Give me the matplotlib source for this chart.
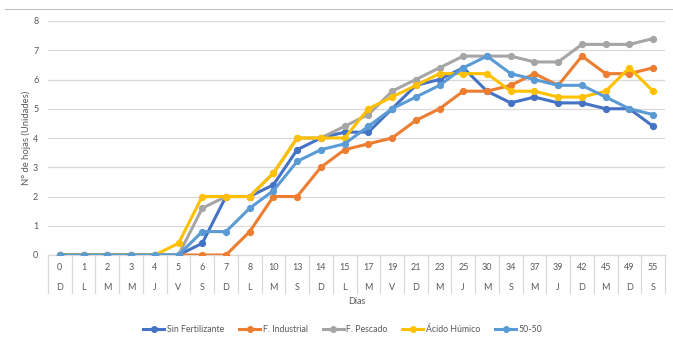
import matplotlib
matplotlib.use("Agg")
import matplotlib.pyplot as plt
from matplotlib.lines import Line2D
import matplotlib.transforms as mtransforms

plt.rcParams['font.family'] = ['Lato', 'DejaVu Sans']

dias = ["0", "1", "2", "3", "4", "5", "6", "7", "8", "10", "13", "14", "15",
        "17", "19", "21", "23", "25", "30", "34", "37", "39", "42", "45", "49", "55"]
dias_semana = ["D", "L", "M", "M", "J", "V", "S", "D", "L", "M", "S", "D", "L",
               "M", "V", "D", "M", "J", "M", "S", "M", "J", "D", "M", "D", "S"]

sin_fertilizante = [0, 0, 0, 0, 0, 0, 0.4, 2, 2, 2.4, 3.6, 4, 4.2, 4.2, 5, 5.8,
                    6, 6.4, 5.6, 5.2, 5.4, 5.2, 5.2, 5, 5, 4.4]
f_industrial = [0, 0, 0, 0, 0, 0, 0, 0, 0.8, 2, 2, 3, 3.6, 3.8, 4, 4.6,
                5, 5.6, 5.6, 5.8, 6.2, 5.8, 6.8, 6.2, 6.2, 6.4]
f_pescado = [0, 0, 0, 0, 0, 0, 1.6, 2, 2, 2.8, 4, 4, 4.4, 4.8, 5.6, 6,
             6.4, 6.8, 6.8, 6.8, 6.6, 6.6, 7.2, 7.2, 7.2, 7.4]
acido_humico = [0, 0, 0, 0, 0, 0.4, 2, 2, 2, 2.8, 4, 4, 4, 5, 5.4, 5.8,
                6.2, 6.2, 6.2, 5.6, 5.6, 5.4, 5.4, 5.6, 6.4, 5.6]
mezcla_50_50 = [0, 0, 0, 0, 0, 0, 0.8, 0.8, 1.6, 2.2, 3.2, 3.6, 3.8, 4.4, 5, 5.4,
                5.8, 6.4, 6.8, 6.2, 6, 5.8, 5.8, 5.4, 5, 4.8]

series = [
    ("Sin Fertilizante", sin_fertilizante, "#4472C4"),
    ("F. Industrial", f_industrial, "#ED7D31"),
    ("F. Pescado", f_pescado, "#A5A5A5"),
    ("Ácido Húmico", acido_humico, "#FFC000"),
    ("50-50", mezcla_50_50, "#5B9BD5"),
]

txt = "#595959"
grid = "#D9D9D9"

fig = plt.figure(figsize=(6.73, 3.40), dpi=100)
ax = fig.add_axes([48 / 673, 1 - 255 / 340, 617 / 673, 234 / 340])

x = list(range(len(dias)))
for name, vals, col in series:
    ax.plot(x, vals, color=col, lw=2.2, marker="o", ms=4.2, label=name,
            solid_joinstyle="round", zorder=3)

ax.set_xlim(-0.5, len(dias) - 0.5)
ax.set_ylim(0, 8)
ax.set_yticks(range(0, 9))
ax.tick_params(axis="y", length=0, pad=7, labelsize=6.5, labelcolor=txt)
ax.set_xticks([])
ax.grid(axis="y", color=grid, lw=0.9, zorder=0)
for s in ["top", "right", "left"]:
    ax.spines[s].set_visible(False)
ax.spines["bottom"].set_color(grid)
ax.spines["bottom"].set_linewidth(0.9)

# two-level category axis
px = 1 / 234  # one pixel in axes-fraction units (vertical)
trans = mtransforms.blended_transform_factory(ax.transData, ax.transAxes)
for i, (d, w) in enumerate(zip(dias, dias_semana)):
    ax.text(i, -13 * px, d, transform=trans, ha="center", va="center",
            fontsize=6.5, color=txt)
    ax.text(i, -32 * px, w, transform=trans, ha="center", va="center",
            fontsize=6.5, color=txt)
for b in range(len(dias) + 1):
    ax.add_line(Line2D([b - 0.5, b - 0.5], [0, -38 * px], transform=trans,
                       color=grid, lw=0.9, clip_on=False))

ax.text(0.5, -47 * px, "Días", transform=ax.transAxes, ha="center", va="center",
        fontsize=6.5, color=txt)
fig.text(26 / 673, 1 - 138 / 340, "N° de hojas (Unidades)", rotation=90,
         ha="center", va="center", fontsize=6.8, color=txt)

# frame line along the top of the chart
fig.add_artist(Line2D([5 / 673, 1], [1 - 9 / 340, 1 - 9 / 340],
                      transform=fig.transFigure, color="#BFBFBF", lw=0.8))

handles = [Line2D([], [], color=c, lw=2.2, marker="o", ms=4) for _, _, c in series]
fig.legend(handles, [n for n, _, _ in series], loc="center",
           bbox_to_anchor=(343 / 673, 1 - 330 / 340), ncol=5, frameon=False,
           fontsize=6.3, labelcolor=txt, handlelength=2.4, handletextpad=0.3,
           columnspacing=1.7)

fig.savefig("out.png", dpi=100, facecolor="white")
